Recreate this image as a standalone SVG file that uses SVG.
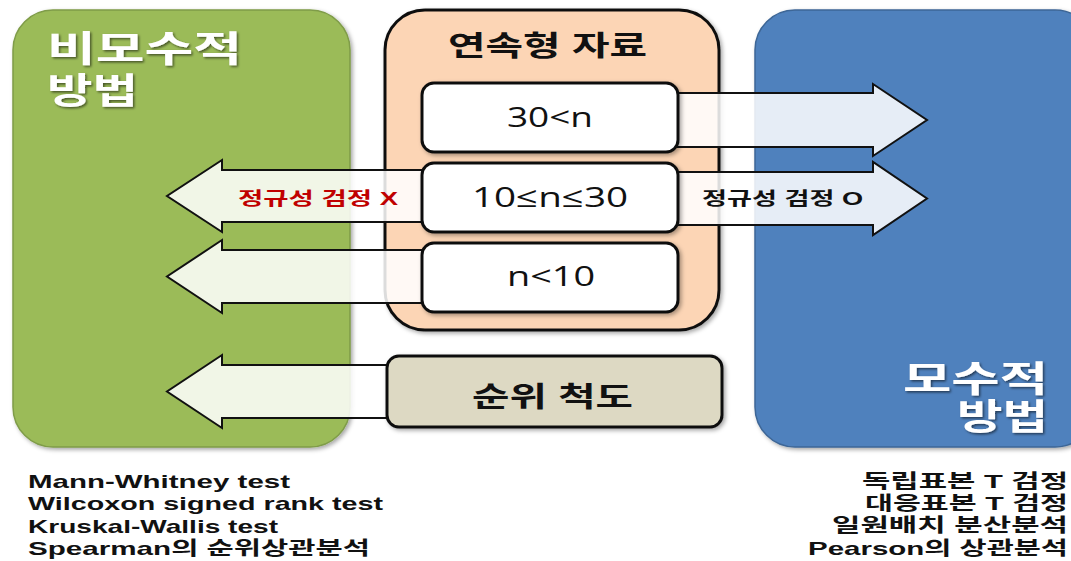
<svg xmlns="http://www.w3.org/2000/svg" width="1071" height="561" viewBox="0 0 1071 561">
<style>
text{font-family:"Liberation Sans","Noto Sans CJK KR",sans-serif;}
.title{font-size:36px;font-weight:bold;fill:#ffffff;}
.head{font-size:28px;font-weight:bold;fill:#111111;}
.num{font-size:28px;font-weight:normal;fill:#111111;font-family:"Open Sans","Noto Sans CJK KR",sans-serif;}
.lbl{font-size:18px;font-weight:bold;}
.list{font-size:19px;font-weight:bold;fill:#111111;}
.arrow{fill:#ffffff;fill-opacity:0.86;stroke:#111111;stroke-width:2;stroke-linejoin:miter;}
.wbox{fill:#ffffff;stroke:#111111;stroke-width:3;}
</style>
<defs>
<filter id="sh" x="-10%" y="-10%" width="125%" height="125%">
<feDropShadow dx="2" dy="2" stdDeviation="2" flood-color="#000" flood-opacity="0.35"/>
</filter>
<filter id="tsh" x="-10%" y="-20%" width="130%" height="150%">
<feDropShadow dx="1.5" dy="1.5" stdDeviation="1" flood-color="#000" flood-opacity="0.55"/>
</filter>
</defs>
<rect width="1071" height="561" fill="#ffffff"/>

<g id="nonparam">
<rect x="13" y="10" width="337" height="437" rx="40" fill="#9bbb59" stroke="#7f9c48" stroke-width="1.5" filter="url(#sh)"/>
<text class="title" x="47" y="62" textLength="195" lengthAdjust="spacingAndGlyphs" filter="url(#tsh)">비모수적</text>
<text class="title" x="47" y="104" textLength="91" lengthAdjust="spacingAndGlyphs" filter="url(#tsh)">방법</text>
</g>

<g id="param">
<rect x="755" y="10" width="340" height="437" rx="40" fill="#4f81bd" stroke="#3d6696" stroke-width="1.5" filter="url(#sh)"/>
<text class="title" x="903" y="392" textLength="145" lengthAdjust="spacingAndGlyphs" filter="url(#tsh)">모수적</text>
<text class="title" x="957" y="430" textLength="91" lengthAdjust="spacingAndGlyphs" filter="url(#tsh)">방법</text>
</g>

<g id="continuous">
<rect x="385" y="10" width="334" height="320" rx="40" fill="#fcd5b5" stroke="#111111" stroke-width="3" filter="url(#sh)"/>
<text class="head" x="448" y="56" textLength="199" lengthAdjust="spacingAndGlyphs">연속형 자료</text>
</g>

<g id="connectors">
<polygon class="arrow" points="560,93 873,93 873,84 927,120 873,156 873,147 560,147"/>
<polygon class="arrow" points="560,172 873,172 873,162 927,198.5 873,235 873,225 560,225"/>
<polygon class="arrow" points="600,170 222,170 222,160 167,196 222,232 222,222 600,222"/>
<polygon class="arrow" points="600,250 222,250 222,240 167,276.5 222,313 222,303 600,303"/>
<polygon class="arrow" points="500,365 222,365 222,355 167,391.5 222,428 222,418 500,418"/>
<text class="lbl" x="238" y="205" fill="#c00000" textLength="160" lengthAdjust="spacingAndGlyphs">정규성 검정 X</text>
<text class="lbl" x="702" y="205" fill="#111111" textLength="161" lengthAdjust="spacingAndGlyphs">정규성 검정 O</text>
</g>

<g id="n-large">
<rect class="wbox" x="422" y="83" width="256" height="69" rx="12" filter="url(#sh)"/>
<text class="num" x="507" y="127" textLength="86" lengthAdjust="spacingAndGlyphs">30&lt;n</text>
</g>
<g id="n-mid">
<rect class="wbox" x="422" y="163" width="256" height="69" rx="12" filter="url(#sh)"/>
<text class="num" x="472" y="207" textLength="156" lengthAdjust="spacingAndGlyphs">10≤n≤30</text>
</g>
<g id="n-small">
<rect class="wbox" x="422" y="243" width="256" height="69" rx="12" filter="url(#sh)"/>
<text class="num" x="507" y="286" textLength="88" lengthAdjust="spacingAndGlyphs">n&lt;10</text>
</g>

<g id="rank">
<rect x="387" y="356" width="335" height="71" rx="12" fill="#ddd9c3" stroke="#111111" stroke-width="3" filter="url(#sh)"/>
<text class="head" x="472" y="407" textLength="161" lengthAdjust="spacingAndGlyphs">순위 척도</text>
</g>

<g id="nonparam-list">
<text class="list" x="28" y="488" textLength="262" lengthAdjust="spacingAndGlyphs">Mann-Whitney test</text>
<text class="list" x="28" y="510" textLength="355" lengthAdjust="spacingAndGlyphs">Wilcoxon signed rank test</text>
<text class="list" x="28" y="533" textLength="250" lengthAdjust="spacingAndGlyphs">Kruskal-Wallis test</text>
<text class="list" x="28" y="555" textLength="342" lengthAdjust="spacingAndGlyphs">Spearman의 순위상관분석</text>
</g>

<g id="param-list">
<text class="list" x="862" y="488" textLength="206" lengthAdjust="spacingAndGlyphs">독립표본 T 검정</text>
<text class="list" x="865" y="510" textLength="203" lengthAdjust="spacingAndGlyphs">대응표본 T 검정</text>
<text class="list" x="832" y="532" textLength="236" lengthAdjust="spacingAndGlyphs">일원배치 분산분석</text>
<text class="list" x="808" y="555" textLength="260" lengthAdjust="spacingAndGlyphs">Pearson의 상관분석</text>
</g>
</svg>
